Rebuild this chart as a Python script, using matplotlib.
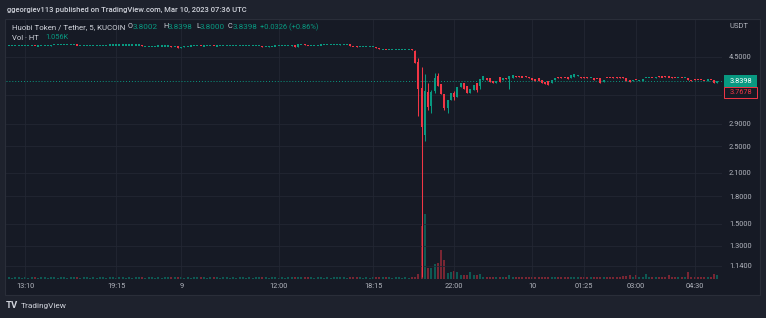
import numpy as np
import matplotlib
matplotlib.use('Agg')
import matplotlib.pyplot as plt
from matplotlib.patches import Rectangle
from matplotlib.ticker import FixedLocator, NullLocator, FixedFormatter

W, H = 766, 318
BG_OUT = '#1e222d'
BG_PANE = '#161a25'
GRID = '#232733'
TXT = '#b2b5be'
UP = '#089981'
DN = '#f23645'
FONT = 'Roboto'

# ---------------- data ----------------
pre_close = [
    4.852, 4.852, 4.852, 4.852, 4.852, 4.852, 4.852, 4.852, 4.835, 4.840,
    4.845, 4.850, 4.852, 4.872, 4.872, 4.872, 4.874, 4.874, 4.876, 4.876,
    4.880, 4.862, 4.862, 4.862, 4.864, 4.864, 4.864, 4.866, 4.866, 4.866,
    4.868, 4.868, 4.868, 4.868, 4.870, 4.870, 4.870, 4.870, 4.870, 4.870,
    4.870, 4.830, 4.832, 4.834, 4.834, 4.836, 4.836, 4.838, 4.838, 4.840,
    4.815, 4.820, 4.790, 4.810, 4.825, 4.835, 4.840, 4.845, 4.850, 4.835,
    4.840, 4.845, 4.848, 4.838, 4.840, 4.842, 4.842, 4.842, 4.842, 4.842,
    4.842, 4.842, 4.842, 4.842, 4.842, 4.842, 4.842, 4.842, 4.810, 4.815,
    4.825, 4.835, 4.840, 4.842, 4.842, 4.842, 4.845, 4.880, 4.810, 4.890,
    4.890, 4.870, 4.855, 4.860, 4.865, 4.870, 4.872, 4.874, 4.876, 4.878,
    4.880, 4.885, 4.900, 4.900, 4.900, 4.840, 4.825, 4.815, 4.815, 4.815,
    4.815, 4.815, 4.815, 4.775, 4.735, 4.740, 4.735, 4.735, 4.735, 4.735,
    4.735, 4.735, 4.735, 4.735, 4.705]

post_open = [
    4.68, 4.36, 3.67, 2.69, 3.58, 3.26, 3.60, 3.97, 3.77, 3.52,
    3.21, 3.38, 3.55, 3.47, 3.69, 3.79, 3.71, 3.54, 3.63, 3.80,
    3.72, 3.87, 3.92, 3.91, 3.84, 3.80, 3.95, 3.86, 3.93, 3.89,
    3.92, 3.97, 3.96, 3.95, 3.96, 3.95, 3.92, 3.90, 3.92, 3.87,
    3.82, 3.84, 3.80, 3.87, 3.94, 3.94, 3.93, 3.95, 3.92, 3.94,
    3.96, 3.95, 3.94, 3.94, 3.93, 3.93, 3.90, 3.92, 3.81, 3.93,
    3.93, 3.94, 3.94, 3.94, 3.94, 3.92, 3.88, 3.85, 3.88, 3.86,
    3.84, 3.92, 3.92, 3.93, 3.93, 3.96, 3.95, 3.96, 3.95, 3.95,
    3.93, 3.92, 3.93, 3.92, 3.92, 3.88, 3.90, 3.88, 3.88, 3.87,
    3.84, 3.88, 3.86, 3.8002]
post_close = [
    4.33, 3.65, 2.84, 3.60, 3.24, 3.58, 3.92, 3.72, 3.53, 3.22,
    3.39, 3.54, 3.45, 3.70, 3.79, 3.65, 3.54, 3.64, 3.74, 3.62,
    3.89, 3.96, 3.86, 3.82, 3.79, 3.85, 3.82, 3.92, 3.90, 3.96,
    4.00, 3.95, 3.94, 3.94, 3.95, 3.93, 3.86, 3.85, 3.85, 3.80,
    3.76, 3.75, 3.86, 3.93, 3.93, 3.92, 3.92, 3.89, 4.00, 4.02,
    4.01, 3.93, 3.93, 3.92, 3.93, 3.87, 3.89, 3.79, 3.86, 3.92,
    3.92, 3.92, 3.93, 3.93, 3.93, 3.84, 3.81, 3.86, 3.86, 3.87,
    3.90, 3.93, 3.93, 3.92, 3.94, 3.95, 3.94, 3.95, 3.94, 3.93,
    3.92, 3.93, 3.92, 3.93, 3.86, 3.85, 3.86, 3.87, 3.86, 3.86,
    3.89, 3.86, 3.79, 3.8398]

high_wicks = {125: 4.71, 126: 4.47, 127: 4.21, 128: 4.02, 129: 3.78,
              130: 3.62, 131: 4.04, 132: 4.05, 137: 3.60, 218: 3.8398}
low_wicks = {125: 4.32, 126: 3.05, 127: 1.06, 128: 2.59, 129: 3.18,
             130: 3.12, 131: 3.55, 134: 3.18, 135: 3.12, 137: 3.38,
             144: 3.57, 145: 3.64, 154: 3.65, 218: 3.80}

volume_k = [
    0.40, 0.35, 0.45, 0.40, 0.38, 0.42, 0.36, 0.40, 0.50, 0.38,
    0.42, 0.40, 0.36, 0.48, 0.40, 0.38, 0.42, 0.40, 0.36, 0.40,
    0.44, 0.50, 0.38, 0.40, 0.42, 0.36, 0.40, 0.38, 0.42, 0.40,
    0.36, 0.40, 0.44, 0.38, 0.40, 0.42, 0.36, 0.40, 0.38, 0.42,
    0.40, 0.46, 0.38, 0.40, 0.42, 0.36, 0.40, 0.38, 0.42, 0.40,
    0.52, 0.40, 0.55, 0.42, 0.38, 0.40, 0.36, 0.40, 0.42, 0.50,
    0.40, 0.38, 0.42, 0.48, 0.40, 0.36, 0.40, 0.42, 0.38, 0.40,
    0.36, 0.40, 0.42, 0.38, 0.40, 0.36, 0.40, 0.42, 0.50, 0.40,
    0.38, 0.42, 0.40, 0.36, 0.40, 0.38, 0.42, 0.60, 0.55, 0.60,
    0.45, 0.50, 0.48, 0.40, 0.38, 0.42, 0.40, 0.36, 0.40, 0.38,
    0.42, 0.40, 0.50, 0.40, 0.38, 0.55, 0.50, 0.48, 0.40, 0.36,
    0.40, 0.38, 0.42, 0.55, 0.60, 0.42, 0.45, 0.40, 0.38, 0.42,
    0.40, 0.36, 0.40, 0.38, 0.50,
    0.4, 1.4, 13.8, 16.9, 2.9, 2.9, 3.9, 4.2, 7.5, 4.9,
    1.6, 1.8, 2.1, 1.8, 1.0, 1.0, 1.0, 1.8, 1.0, 1.0,
    1.2, 0.5, 0.65, 0.45, 0.4, 0.5, 0.45, 0.4, 0.45, 1.0,
    0.5, 0.4, 0.45, 0.4, 0.4, 0.45, 0.4, 0.5, 0.45, 0.4,
    0.45, 0.5, 0.4, 0.45, 0.4, 0.4, 0.45, 0.5, 0.55, 0.6,
    0.5, 0.4, 0.45, 0.4, 0.4, 0.5, 0.45, 0.6, 0.5, 0.4,
    0.45, 0.4, 0.45, 0.55, 0.8, 0.9, 1.0, 0.6, 1.0, 0.5,
    0.6, 1.3, 0.5, 0.45, 0.4, 0.5, 0.45, 0.4, 1.0, 0.5,
    0.45, 0.4, 0.5, 0.6, 1.8, 0.5, 0.45, 0.4, 0.5, 0.45,
    0.6, 0.5, 1.3, 1.056]

time_ticks = [5, 33, 53, 83, 112, 137, 161, 177, 193, 211]
time_labels = ['13:10', '19:15', '9', '12:00', '18:15', '22:00', '10', '01:25', '03:00', '04:30']
price_ticks = [1.14, 1.3, 1.5, 1.8, 2.1, 2.5, 2.9, 4.5]
hidden_tick = 3.5
last_price = 3.8398
ref_price = 3.7678

# ---------------- build candles ----------------
opens = [pre_close[0]] + pre_close[:-1] + post_open
closes = pre_close + post_close
n = len(closes)
xs = np.arange(n)
highs = [max(o, c) for o, c in zip(opens, closes)]
lows = [min(o, c) for o, c in zip(opens, closes)]
for k, v in high_wicks.items():
    highs[k] = v
for k, v in low_wicks.items():
    lows[k] = v
is_up = [c >= o for o, c in zip(opens, closes)]
cols = [UP if u else DN for u in is_up]

PX = 152.0  # px per ln unit (style: min body = ~1px)
bottoms, heights = [], []
for o, c in zip(opens, closes):
    lo, hi = min(o, c), max(o, c)
    if np.log(hi / lo) < 1.1 / PX:
        mid = np.sqrt(lo * hi)
        lo = mid * np.exp(-0.55 / PX)
        hi = mid * np.exp(0.55 / PX)
    bottoms.append(lo)
    heights.append(hi - lo)

# ---------------- figure ----------------
fig = plt.figure(figsize=(W / 100, H / 100), dpi=100, facecolor=BG_OUT)
renderer = fig.canvas.get_renderer()

def fx(px):
    return px / W

def fy(py):
    return 1 - py / H

fig.add_artist(Rectangle((fx(5), fy(295)), 755 / W, 276 / H, transform=fig.transFigure,
                         facecolor=BG_PANE, edgecolor='#2a2e39', lw=0.8, zorder=-5))

top_px, bot_px = 20, 279
ax = fig.add_axes([fx(6), fy(bot_px), 716 / W, (bot_px - top_px) / H])
vax = ax.twinx()
ax.set_zorder(vax.get_zorder() + 1)
ax.patch.set_visible(False)
vax.patch.set_visible(False)

# volume
vcols = [(0.031, 0.6, 0.506, 0.5) if u else (0.949, 0.212, 0.271, 0.45) for u in is_up]
vax.bar(xs, volume_k, width=0.62, color=vcols, linewidth=0)
vax.set_ylim(0, (bot_px - top_px) * 0.26)
vax.axis('off')

# candles
ax.set_yscale('log')
ax.vlines(xs, lows, highs, colors=cols, lw=0.75, zorder=3)
ax.bar(xs, heights, bottom=bottoms, width=0.62, color=cols, linewidth=0, zorder=4)
ax.axhline(last_price, color=UP, lw=0.7, ls=(0, (1, 2)), zorder=2)
ax.axhline(hidden_tick, color=GRID, lw=0.6, zorder=1)

ax.set_xlim(-0.92, 219.4)
ax.set_ylim(1.0445, 5.74)
ax.yaxis.set_major_locator(FixedLocator(price_ticks))
ax.yaxis.set_minor_locator(NullLocator())
ax.yaxis.set_major_formatter(FixedFormatter(['%.4f' % v for v in price_ticks]))
ax.yaxis.tick_right()
ax.set_xticks(time_ticks)
ax.set_xticklabels(time_labels)
ax.tick_params(axis='both', length=0, labelsize=5.3, labelcolor=TXT)
ax.tick_params(axis='y', pad=5.0)
ax.tick_params(axis='x', pad=3.2)
for lab in ax.get_xticklabels() + ax.get_yticklabels():
    lab.set_fontfamily(FONT)
ax.grid(True, color=GRID, lw=0.6, zorder=0)
for s in ax.spines.values():
    s.set_visible(False)

# ---------------- texts ----------------
def t(px, py, s, color=TXT, size=5.3, weight='normal', ha='left', fit=None, **kw):
    txt = fig.text(fx(px), fy(py), s, color=color, fontsize=size, fontweight=weight,
                   ha=ha, va='center', family=FONT, **kw)
    if fit is not None:
        w = txt.get_window_extent(renderer=renderer).width
        if w > 0:
            txt.set_fontsize(size * fit / w)
    return txt

t(6.5, 9.5, 'ggeorgiev113 published on TradingView.com, Mar 10, 2023 07:36 UTC',
  color='#d1d4dc', size=5.6, weight='medium', fit=241)
t(12, 27, 'Huobi Token / Tether, 5, KUCOIN', color='#d1d4dc', fit=114)
t(128, 27, 'O', color='#d1d4dc'); t(133, 27, '3.8002', color=UP, fit=25)
t(163, 27, 'H', color='#d1d4dc'); t(168, 27, '3.8398', color=UP, fit=25)
t(196, 27, 'L', color='#d1d4dc'); t(200, 27, '3.8000', color=UP, fit=25)
t(228, 27, 'C', color='#d1d4dc'); t(233, 27, '3.8398', color=UP, fit=25)
t(260, 27, '+0.0326 (+0.86%)', color=UP, fit=59)
t(12, 37.7, 'Vol · HT', color='#d1d4dc', fit=27)
t(45, 37.7, '1.056K', color=UP, fit=23)
t(729, 26, 'USDT', color=TXT, fit=19)

# price labels
fig.add_artist(Rectangle((fx(724), fy(87)), 33 / W, 12 / H, transform=fig.transFigure,
                         facecolor=UP, edgecolor='none', zorder=10))
t(740.5, 81, '%.4f' % last_price, color='white', ha='center', zorder=11)
fig.add_artist(Rectangle((fx(724), fy(98)), 33 / W, 11 / H, transform=fig.transFigure,
                         facecolor=BG_PANE, edgecolor=DN, lw=0.7, zorder=10))
t(740.5, 92.5, '%.4f' % ref_price, color=DN, ha='center', zorder=11)

# footer logo
t(6, 306, 'TV', color='#d1d4dc', size=6.2, weight='bold', fit=12)
t(21, 306, 'TradingView', color='#d1d4dc', size=5.4, fit=46)

fig.savefig('out.png', dpi=100, facecolor=BG_OUT)
